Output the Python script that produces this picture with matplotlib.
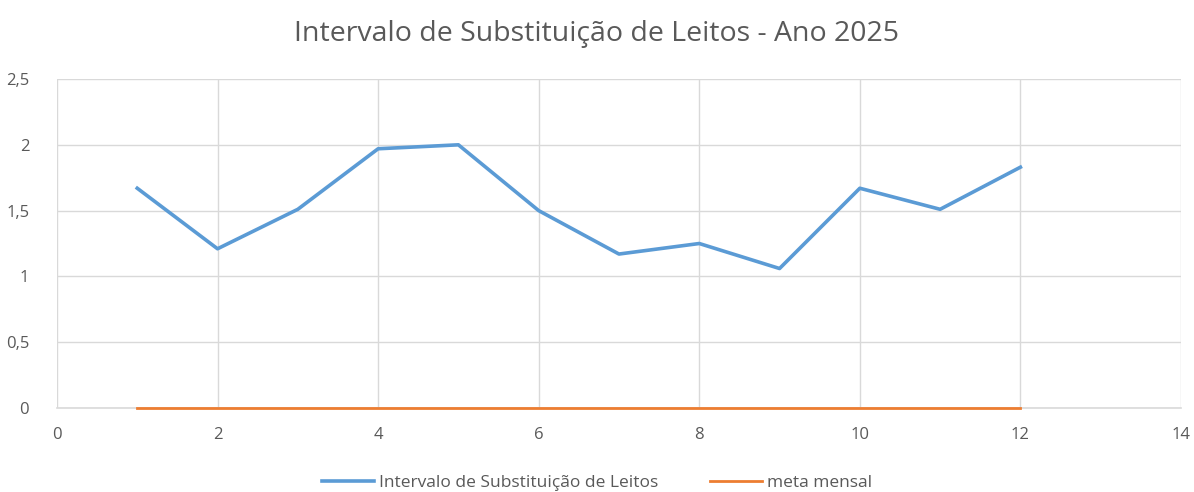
import matplotlib
matplotlib.use("Agg")
import matplotlib.pyplot as plt
from matplotlib.ticker import FuncFormatter

plt.rcParams["font.family"] = ["Open Sans", "DejaVu Sans"]

meses = [1, 2, 3, 4, 5, 6, 7, 8, 9, 10, 11, 12]
intervalo = [1.67, 1.21, 1.51, 1.97, 2.00, 1.50, 1.17, 1.25, 1.06, 1.67, 1.51, 1.83]
meta = [0, 0, 0, 0, 0, 0, 0, 0, 0, 0, 0, 0]

TXT = "#595959"
GRID = "#D9D9D9"

fig = plt.figure(figsize=(11.94, 4.92), dpi=100)
ax = fig.add_axes([0.0477, 0.1707, 0.9414, 0.6687])

ax.plot(meses, intervalo, color="#5B9BD5", lw=2.6, label="Intervalo de Substituição de Leitos",
        solid_joinstyle="round", zorder=3)
ax.plot(meses, meta, color="#ED7D31", lw=2.0, label="meta mensal", zorder=4, clip_on=False)

ax.set_xlim(0, 14)
ax.set_ylim(0, 2.5)
ax.set_xticks(range(0, 15, 2))
ax.set_yticks([0, 0.5, 1, 1.5, 2, 2.5])
ax.yaxis.set_major_formatter(FuncFormatter(lambda v, p: f"{v:g}".replace(".", ",")))
ax.grid(True, color=GRID, lw=1)
ax.set_axisbelow(True)
for s in ["top", "right", "left"]:
    ax.spines[s].set_visible(False)
ax.spines["bottom"].set_color(GRID)
ax.spines["bottom"].set_linewidth(1.2)
ax.tick_params(length=0, colors=TXT, labelsize=12, pad=14)
ax.tick_params(axis="y", pad=20)

fig.suptitle("Intervalo de Substituição de Leitos - Ano 2025", y=0.96, fontsize=20.5, color=TXT)
fig.legend(loc="lower center", bbox_to_anchor=(0.5, -0.03), ncol=2, frameon=False,
           fontsize=12.5, labelcolor=TXT, handlelength=3.0, handletextpad=0.25, columnspacing=3.0)

fig.savefig("out.png", dpi=100)
